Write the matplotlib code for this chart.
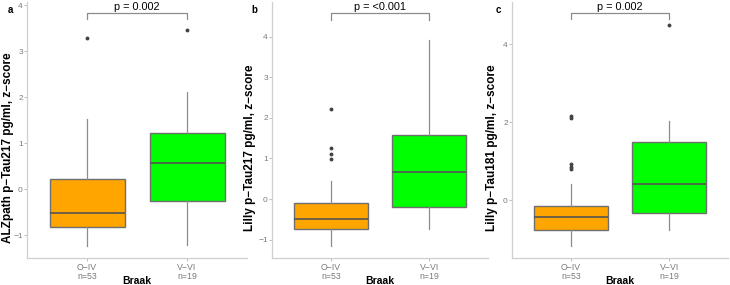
import matplotlib
matplotlib.use("Agg")
import matplotlib.pyplot as plt

plt.rcParams['font.family'] = ['Liberation Sans', 'DejaVu Sans']

categories = ["O\u2212IV\nn=53", "V\u2212VI\nn=19"]
panel_letters = ["a", "b", "c"]
ylabels = ["ALZpath p\u2212Tau217 pg/ml, z\u2212score",
           "Lilly p\u2212Tau217 pg/ml, z\u2212score",
           "Lilly p\u2212Tau181 pg/ml, z\u2212score"]
pvalues = ["p = 0.002", "p = <0.001", "p = 0.002"]

# box stats per panel: [whislo, q1, med, q3, whishi]
a_stats = [[-1.24, -0.82, -0.515, 0.21, 1.52], [-1.22, -0.27, 0.56, 1.21, 2.12]]
a_fliers = [[3.28], [3.47]]
b_stats = [[-1.16, -0.73, -0.50, -0.10, 0.44], [-0.74, -0.20, 0.66, 1.58, 3.92]]
b_fliers = [[2.21, 1.25, 1.11, 0.98], []]
c_stats = [[-1.17, -0.76, -0.42, -0.15, 0.42], [-0.76, -0.33, 0.41, 1.49, 2.04]]
c_fliers = [[2.16, 2.12, 0.92, 0.85, 0.79], [4.5]]

stats_all = [a_stats, b_stats, c_stats]
fliers_all = [a_fliers, b_fliers, c_fliers]
yticks_all = [[-1, 0, 1, 2, 3, 4], [-1, 0, 1, 2, 3, 4], [0, 2, 4]]
ylims = [(-1.5, 4.07), (-1.45, 4.85), (-1.48, 5.08)]
bracket_y = [(3.83, 3.70), (4.58, 4.41), (4.79, 4.64)]

fills = ["#FFA500", "#00FF00"]

W, H = 730, 285
fig = plt.figure(figsize=(W / 100, H / 100), dpi=100)

# axes pixel boxes: left, right, top, bottom
boxes = [(27, 247, 2, 258), (272, 488, 2, 258), (512, 728, 2, 258)]
ylabel_x = [8.5, 250, 492]
letter_x = [10, 254, 498]

grey = "#8c8c8c"
for i in range(3):
    l, r, t, b = boxes[i]
    ax = fig.add_axes([l / W, 1 - b / H, (r - l) / W, (b - t) / H])
    st = []
    for j in range(2):
        s = stats_all[i][j]
        st.append(dict(whislo=s[0], q1=s[1], med=s[2], q3=s[3], whishi=s[4],
                       fliers=fliers_all[i][j]))
    bp = ax.bxp(st, positions=[1, 2], widths=0.75, patch_artist=True,
                showcaps=False,
                boxprops=dict(edgecolor="#6f6f6f", linewidth=1.0),
                medianprops=dict(color="#555555", linewidth=1.2),
                whiskerprops=dict(color=grey, linewidth=0.9),
                flierprops=dict(marker="o", markersize=1.8, markerfacecolor="#444444",
                                markeredgecolor="#444444", linestyle="none"))
    for patch, c in zip(bp["boxes"], fills):
        patch.set_facecolor(c)
    ax.set_xlim(0.4, 2.6)
    ax.set_ylim(*ylims[i])
    ax.set_yticks(yticks_all[i])
    ax.set_yticklabels([("\u2212%d" % -v) if v < 0 else str(v) for v in yticks_all[i]])
    ax.set_xticks([1, 2])
    ax.set_xticklabels(categories)
    for sp in ["top", "right"]:
        ax.spines[sp].set_visible(False)
    for sp in ["left", "bottom"]:
        ax.spines[sp].set_color("#cfcfcf")
        ax.spines[sp].set_linewidth(0.9)
    ax.tick_params(axis="both", colors="#bdbdbd", labelcolor="#7a7a7a",
                   labelsize=6.3, length=2, width=0.7, pad=1.5)
    ax.tick_params(axis="y", labelsize=6, pad=1)
    for lab in ax.get_xticklabels():
        lab.set_linespacing(1.0)
    ax.set_xlabel("Braak", fontsize=7.5, fontweight="bold")
    ax.xaxis.set_label_coords(0.5, (b - 281) / (b - t))
    ax.xaxis.label.set_va("center")
    ax.set_ylabel(ylabels[i], fontsize=8.5, fontweight="bold")
    ax.yaxis.set_label_coords((ylabel_x[i] - l) / (r - l), (b - 148) / (b - t))
    ax.yaxis.label.set_va("center")
    # bracket
    yt, ye = bracket_y[i]
    ax.plot([1, 1, 2, 2], [ye, yt, yt, ye], color=grey, linewidth=0.9, clip_on=False)
    ax.text(1.5, yt + 0.03, pvalues[i], ha="center", va="bottom", fontsize=7.8, color="black")
    fig.text(letter_x[i] / W, 1 - 10 / H, panel_letters[i], fontsize=7, fontweight="bold",
             ha="center", va="center")

fig.savefig("out.png", dpi=100)
